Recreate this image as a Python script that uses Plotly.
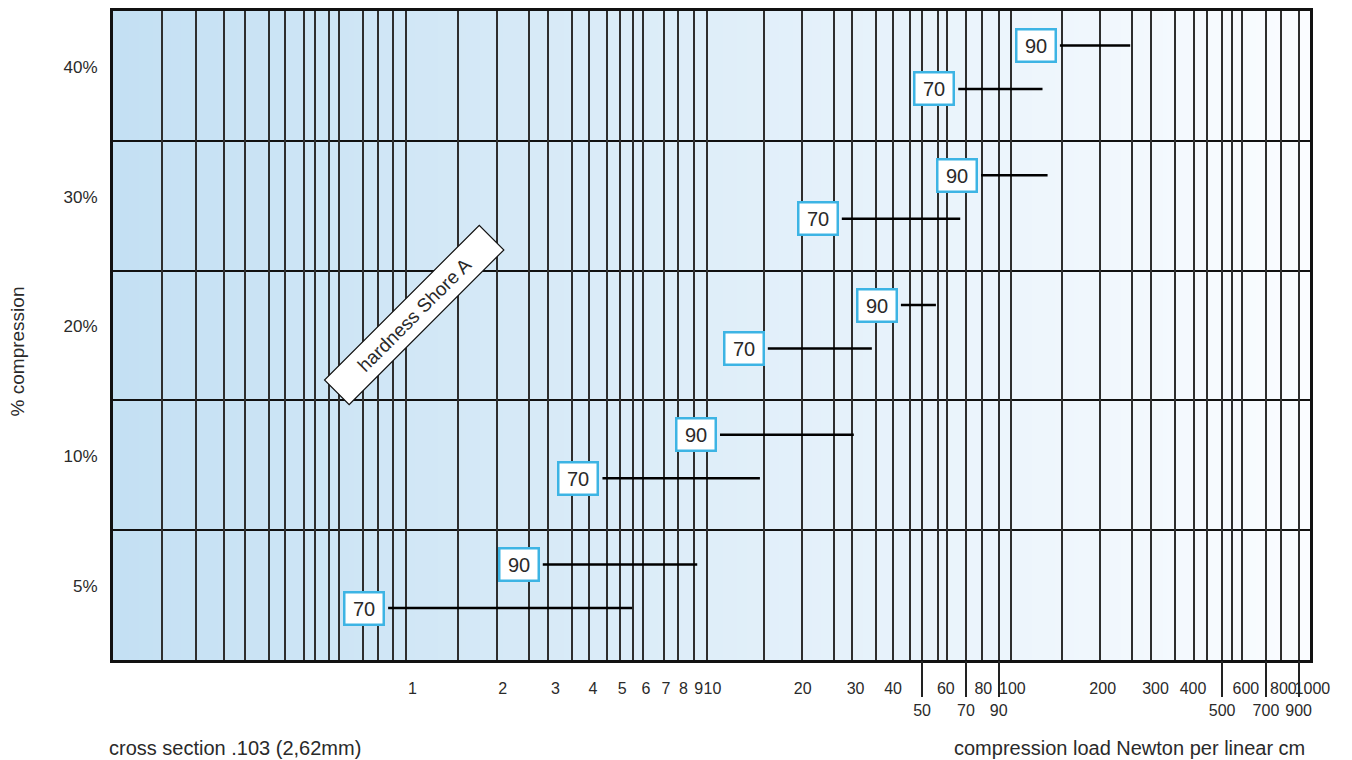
import math, zlib, struct, base64
import plotly.graph_objects as go

# ---------------- data ----------------
COMPRESSION = ["5%", "10%", "20%", "30%", "40%"]
HARDNESS = ["70", "90"]
# compression load (N per linear cm) where each line ends
LOAD_END_70 = [5.4, 14.4, 34.0, 67.0, 126.0]
LOAD_END_90 = [8.9, 29.6, 55.6, 131.0, 247.0]
# where each line (and its hardness label) starts
LOAD_START_70 = [0.83, 4.3, 15.3, 27.0, 66.0]
LOAD_START_90 = [2.72, 10.6, 42.5, 78.6, 144.0]

ROW1_TICKS = [1, 2, 3, 4, 5, 6, 7, 8, 9, 10, 20, 30, 40, 60, 80, 100,
              200, 300, 400, 600, 800, 1000]
ROW2_TICKS = [50, 70, 90, 500, 700, 900]
GRID_VALUES = [0.146, 0.19, 0.236, 0.277, 0.333, 0.376, 0.435, 0.474, 0.527,
               0.569, 0.685, 0.768, 0.862, 0.952, 1.42, 1.91, 2.45, 2.83, 3.4,
               3.88, 4.45, 4.92, 5.44, 5.87, 6.9, 7.68, 8.68, 9.59, 14.9, 19.9,
               25.4, 29.2, 35.1, 40.0, 45.6, 50, 56.5, 60.5, 70, 79.2, 90, 98.9,
               146, 196, 250, 290, 348, 403, 445, 500, 540, 583, 700, 786, 900]

# ---------------- style / layout constants ----------------
FONT = "Liberation Sans"
TXT = "#2a2a2a"
BOX_BLUE = "#3db4e4"
W, H = 1344, 752
ML, MR, MT, MB = 105, 10, 0, 100
PLOT_W = 1197
X_RANGE = [-0.998, 2.992]           # log10 range of the plot area
Y_RANGE = [-0.5, 4.5]
OFFSET = {"70": -0.1, "90": 0.235}  # vertical place of each hardness inside a band

paper_w = W - ML - MR
D = PLOT_W / paper_w
X2_RANGE = [X_RANGE[0], X_RANGE[0] + (X_RANGE[1] - X_RANGE[0]) / D]


def gradient_png(c0, c1, n=256):
    row = bytearray([0])
    for i in range(n):
        t = i / (n - 1)
        row += bytes(int(round(c0[k] + (c1[k] - c0[k]) * t)) for k in range(3))
    raw = bytes(row) * 2

    def chunk(typ, data):
        c = struct.pack(">I", len(data)) + typ + data
        return c + struct.pack(">I", zlib.crc32(typ + data) & 0xffffffff)

    ihdr = struct.pack(">IIBBBBB", n, 2, 8, 2, 0, 0, 0)
    png = (b"\x89PNG\r\n\x1a\n" + chunk(b"IHDR", ihdr) +
           chunk(b"IDAT", zlib.compress(raw)) + chunk(b"IEND", b""))
    return "data:image/png;base64," + base64.b64encode(png).decode()


fig = go.Figure()

series = {"70": (LOAD_START_70, LOAD_END_70), "90": (LOAD_START_90, LOAD_END_90)}
annotations = []
for h in HARDNESS:
    starts, ends = series[h]
    xs, ys = [], []
    for i, cat in enumerate(COMPRESSION):
        yv = i + OFFSET[h]
        xs += [starts[i], ends[i], None]
        ys += [yv, yv, None]
        annotations.append(dict(
            x=math.log10(starts[i]), y=yv, xref="x", yref="y",
            text=h, showarrow=False, xanchor="right", yanchor="middle",
            xshift=-3, font=dict(family=FONT, size=20, color=TXT),
            bgcolor="white", bordercolor=BOX_BLUE, borderwidth=2.5,
            borderpad=4, width=29, align="center"))
    fig.add_trace(go.Scatter(x=xs, y=ys, mode="lines",
                             line=dict(color="black", width=2.5),
                             hoverinfo="skip", showlegend=False))

# carriers for the two rows of tick labels (draw nothing themselves)
fig.add_trace(go.Scatter(x=ROW1_TICKS, y=[0.5] * len(ROW1_TICKS), mode="none",
                         xaxis="x2", yaxis="y2", hoverinfo="skip", showlegend=False))
fig.add_trace(go.Scatter(x=ROW2_TICKS, y=[0.5] * len(ROW2_TICKS), mode="none",
                         xaxis="x3", yaxis="y2", hoverinfo="skip", showlegend=False))

annotations += [
    dict(text="hardness Shore A", xref="x domain", yref="y domain",
         x=0.2515, y=0.532, xanchor="center", yanchor="middle",
         showarrow=False, textangle=-45,
         font=dict(family=FONT, size=19, color=TXT), bgcolor="white",
         bordercolor="#111", borderwidth=1.2, borderpad=5, width=208, height=24),
    dict(text="% compression", xref="paper", yref="paper", x=-0.0781, y=0.4755,
         xanchor="center", yanchor="middle", showarrow=False, textangle=-90,
         font=dict(family=FONT, size=19, color=TXT)),
    dict(text="cross section .103 (2,62mm)", xref="paper", yref="paper",
         x=-0.0049, y=-0.135, xanchor="left", yanchor="middle", showarrow=False,
         font=dict(family=FONT, size=20, color=TXT)),
    dict(text="compression load Newton per linear cm", xref="paper",
         yref="paper", x=0.9715, y=-0.135, xanchor="right", yanchor="middle",
         showarrow=False, font=dict(family=FONT, size=20, color=TXT)),
]

tickfont = dict(family=FONT, size=17, color=TXT)
fig.update_layout(
    width=W, height=H,
    margin=dict(l=ML, r=MR, t=MT, b=MB),
    paper_bgcolor="white", plot_bgcolor="rgba(0,0,0,0)",
    showlegend=False,
    xaxis=dict(type="log", domain=[0, D], range=X_RANGE, tickmode="array",
               tickvals=GRID_VALUES, showticklabels=False, ticks="",
               showgrid=True, gridcolor="#2e2e2e", gridwidth=1.6,
               showline=True, mirror=True, linecolor="#111", linewidth=3,
               zeroline=False, fixedrange=True),
    yaxis=dict(range=Y_RANGE, tickmode="array", tickvals=list(range(len(COMPRESSION))),
               ticktext=COMPRESSION, ticks="", showgrid=False, zeroline=False,
               tickfont=tickfont, ticklabelstandoff=9, ticklabelshift=-9,
               minor=dict(tickmode="array",
                          tickvals=[i + 0.5 for i in range(len(COMPRESSION) - 1)],
                          showgrid=True, gridcolor="#111", gridwidth=1.8, ticks=""),
               showline=True, mirror=True, linecolor="#111", linewidth=3,
               fixedrange=True),
    xaxis2=dict(type="log", domain=[0, 1], range=X2_RANGE, anchor="y2",
                tickmode="array", tickvals=ROW1_TICKS,
                ticktext=[str(v) for v in ROW1_TICKS], ticks="", tickangle=0,
                showgrid=False, showline=False, zeroline=False,
                tickfont=dict(family=FONT, size=16, color=TXT),
                ticklabelstandoff=17, fixedrange=True),
    xaxis3=dict(type="log", domain=[0, 1], range=X2_RANGE, anchor="y2",
                tickmode="array", tickvals=ROW2_TICKS,
                ticktext=[str(v) for v in ROW2_TICKS], ticks="outside", tickangle=0,
                ticklen=36, tickwidth=1.5, tickcolor="#222",
                showgrid=False, showline=False, zeroline=False,
                tickfont=dict(family=FONT, size=16, color=TXT),
                ticklabelstandoff=0, fixedrange=True),
    yaxis2=dict(domain=[0, 1], range=[0, 1], visible=False, fixedrange=True),
    annotations=annotations,
    images=[dict(source=gradient_png((196, 224, 243), (250, 252, 255)),
                 xref="paper", yref="paper", x=0, y=1, sizex=D, sizey=1,
                 xanchor="left", yanchor="top", sizing="stretch",
                 layer="below")],
)

fig.write_html("out.html")
